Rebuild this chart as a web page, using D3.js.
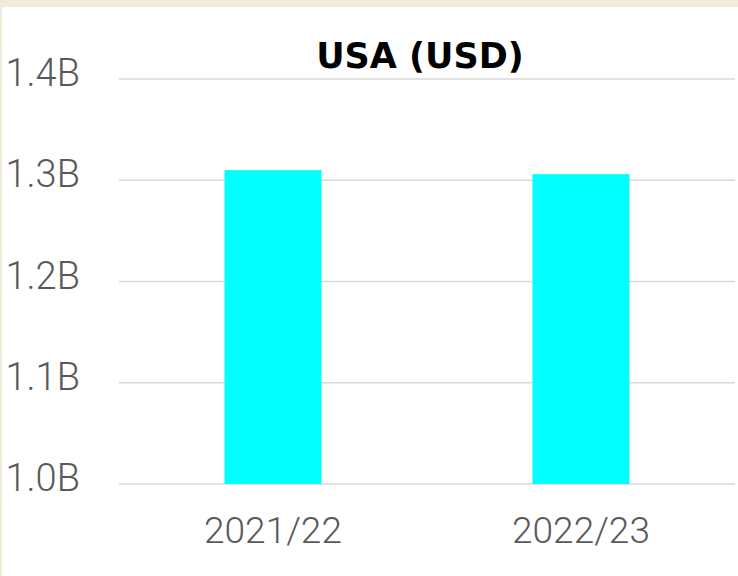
<!DOCTYPE html>
<html lang="en">
<head>
    <meta charset="UTF-8">
    <title>USA (USD)</title>
    <script src="https://cdnjs.cloudflare.com/ajax/libs/d3/7.8.5/d3.min.js"></script>
    <style>
        body {
            margin: 0;
            background-color: #efecda;
            overflow: hidden;
        }
        .tick-label {
            font-family: Roboto, "Noto Sans", sans-serif;
            font-weight: 300;
            fill: #595959;
        }
    </style>
</head>
<body>
    <div id="chart"></div>

    <script>
        // Data
        const years = ["2021/22", "2022/23"];
        const amounts = [1.310, 1.306]; // billions USD
        const yTicks = [1.0, 1.1, 1.2, 1.3, 1.4];
        const yTickLabels = ["1.0B", "1.1B", "1.2B", "1.3B", "1.4B"];

        const width = 738;
        const height = 576;

        const svg = d3.select("#chart")
            .append("svg")
            .attr("width", width)
            .attr("height", height);

        // white chart area inside the beige frame
        svg.append("rect")
            .attr("x", 2)
            .attr("y", 7)
            .attr("width", width - 2)
            .attr("height", height - 7)
            .attr("fill", "#ffffff");

        const x = d3.scaleBand()
            .domain(years)
            .range([119, 735])
            .paddingInner(0.685)
            .paddingOuter(0.3425);

        const y = d3.scaleLinear()
            .domain([1.0, 1.4])
            .range([484, 79]);

        // gridlines
        svg.selectAll(".grid")
            .data(yTicks)
            .enter()
            .append("line")
            .attr("class", "grid")
            .attr("x1", 119)
            .attr("x2", 735)
            .attr("y1", d => y(d))
            .attr("y2", d => y(d))
            .attr("stroke", "#d9d9d9")
            .attr("stroke-width", 1.5);

        // y labels
        svg.selectAll(".y-label")
            .data(yTicks)
            .enter()
            .append("text")
            .attr("class", "tick-label y-label")
            .attr("x", 80)
            .attr("y", d => y(d) + 7)
            .attr("text-anchor", "end")
            .attr("font-size", "38px")
            .text((d, i) => yTickLabels[i]);

        // bars
        svg.selectAll(".bar")
            .data(amounts)
            .enter()
            .append("rect")
            .attr("class", "bar")
            .attr("x", (d, i) => x(years[i]))
            .attr("width", x.bandwidth())
            .attr("y", d => y(d))
            .attr("height", d => y(1.0) - y(d))
            .attr("fill", "#00ffff");

        // x labels
        svg.selectAll(".x-label")
            .data(years)
            .enter()
            .append("text")
            .attr("class", "tick-label x-label")
            .attr("x", d => x(d) + x.bandwidth() / 2)
            .attr("y", 543)
            .attr("text-anchor", "middle")
            .attr("font-size", "37px")
            .text(d => d);

        // title
        svg.append("text")
            .attr("x", 420)
            .attr("y", 68)
            .attr("text-anchor", "middle")
            .attr("font-family", "'DejaVu Sans', sans-serif")
            .attr("font-weight", "bold")
            .attr("font-size", "35px")
            .attr("fill", "#000000")
            .text("USA (USD)");
    </script>
</body>
</html>
